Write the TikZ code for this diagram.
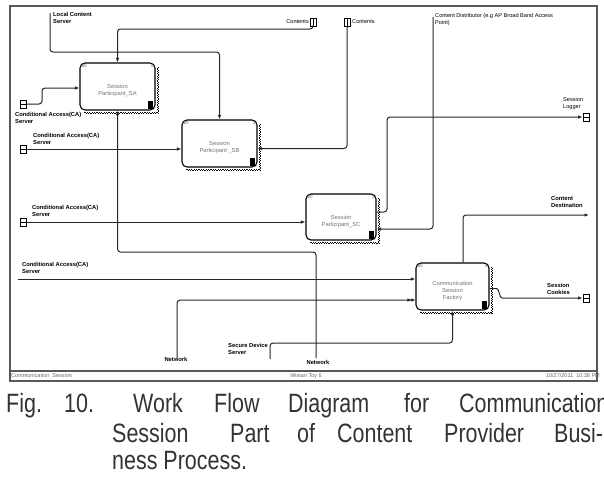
\documentclass[tikz,border=0pt]{standalone}
\usepackage{fontspec}
\setmainfont{Liberation Sans}
\newfontfamily\capfont[FakeStretch=0.81]{Liberation Sans}
\usetikzlibrary{arrows.meta}
\tikzset{
  actbox/.style={draw, line width=1.1pt, rounded corners=5pt, inner sep=0pt},
  boxtext/.style={font=\fontsize{5.8}{7}\selectfont, text=black!55, align=center, inner sep=0pt},
  corner/.style={font=\fontsize{4.5}{5}\selectfont, text=black!60, inner sep=0pt},
  hatch/.style={line width=1.2pt, dash pattern=on 1.2pt off 1.2pt},
  lbl/.style={font=\fontsize{5.8}{7}\selectfont\bfseries, align=left, inner sep=0pt, anchor=north west},
  lbln/.style={lbl, font=\fontsize{5.6}{7}\selectfont},
  foot/.style={font=\fontsize{5.5}{6}\selectfont, text=black!60, inner sep=0pt},
  captext/.style={font=\capfont\fontsize{26.5}{30}\selectfont, text=black!80, anchor=base west, inner sep=0pt},
  flow/.style={line width=1pt, black!85, rounded corners=3pt, -{Latex[length=4.5pt,width=3.5pt]}},
  flow2/.style={flow, -{Latex[length=4pt,width=3.5pt]Latex[length=4pt,width=3.5pt]}},
  tunnel/.style={draw, line width=0.8pt, fill=white, minimum width=6pt, minimum height=8pt, inner sep=0pt},
  tunnelh/.style={tunnel, path picture={\draw[line width=0.6pt] (path picture bounding box.west) -- (path picture bounding box.east);}},
  tunnelv/.style={tunnel, path picture={\draw[line width=0.6pt] (path picture bounding box.north) -- (path picture bounding box.south);}}
}
\begin{document}
\begin{tikzpicture}[x=1pt, y=-1pt]
  \useasboundingbox (0,0) rectangle (604,477);
  % frame and footer
  \draw[line width=1.3pt, black!65] (10,6) rectangle (597,381);
  \draw[line width=1.3pt, black!65] (10,371) -- (597,371);
  \node[foot, anchor=west] (foot-l) at (11,376) {Communication\ \ Session};
  \node[foot] (foot-m) at (306,376) {Wistan Toy 6};
  \node[foot, anchor=east] (foot-r) at (600,376) {10/27/2011\ \ 10:38 PM};

  % activities
  \node[actbox, minimum width=75pt, minimum height=47pt] (sa) at (117.5,86.5) {};
  \node[actbox, minimum width=75pt, minimum height=47pt] (sb) at (219.5,143.5) {};
  \node[actbox, minimum width=70pt, minimum height=46pt] (sc) at (341,217) {};
  \node[actbox, minimum width=73pt, minimum height=47pt] (csf) at (452.5,286.5) {};
  \foreach \b/\n/\t in {sa/1/{Session\\Participant\_SA}, sb/2/{Session\\Participant \_SB},
      sc/3/{Session\\Participant\_SC}, csf/4/{Communication\\Session\\Factory}} {
    \node[boxtext] (\b-txt) at ([yshift=-4pt]\b.center) {\t};
    \node[corner, anchor=north west] (\b-num) at ([shift={(2pt,-1.5pt)}]\b.north west) {\$0};
    \node[corner, anchor=north east] (\b-idx) at ([shift={(-2pt,-1.5pt)}]\b.north east) {\n};
    \fill[shift={(\b.south east)}] (-8,-10) rectangle (-2.5,-2);
    \draw[hatch] ([shift={(5pt,-1.6pt)}]\b.south west) -| ([shift={(1.6pt,-5pt)}]\b.north east);
    \draw[hatch, dash phase=1.2pt] ([shift={(5pt,-2.8pt)}]\b.south west) -| ([shift={(2.8pt,-5pt)}]\b.north east);
  }

  % borders: sources and sinks
  \node[lbl] (lcs) at (53,12) {Local Content\\Server};
  \coordinate (lcs-end) at (50,13);
  \node[tunnelv] (ct1) at (313,22) {};
  \node[lbln, anchor=east] (ct1-lbl) at (309,22) {Contents};
  \node[tunnelv] (ct2) at (347,22) {};
  \node[lbln, anchor=west] (ct2-lbl) at (352,22) {Contents};
  \node[lbln] (cd) at (435,13) {Content Distributor (e.g AP Broad Band Access\\Point)};
  \coordinate (cd-end) at (433,17);
  \node[lbln] (logger-lbl) at (563,97) {Session\\Logger};
  \node[tunnelh] (logger) at (586,117) {};
  \node[lbl] (dest) at (551,196) {Content\\Destination};
  \coordinate (dest-end) at (589,215);
  \node[lbl] (cookies-lbl) at (547,283) {Session\\Cookies};
  \node[tunnelh] (cookies) at (586,298) {};
  \node[tunnelh] (ca1) at (23,104) {};
  \node[lbl] (ca1-lbl) at (15,112) {Conditional Access(CA)\\Server};
  \node[tunnelh] (ca2) at (23,149) {};
  \node[lbl] (ca2-lbl) at (33,133) {Conditional Access(CA)\\Server};
  \node[tunnelh] (ca3) at (23,222) {};
  \node[lbl] (ca3-lbl) at (32,205) {Conditional Access(CA)\\Server};
  \node[lbl] (ca4-lbl) at (22,262) {Conditional Access(CA)\\Server};
  \coordinate (ca4-end) at (18,279);
  \node[lbl, anchor=north] (netl) at (176,357) {Network};
  \coordinate (netl-end) at (177,358);
  \node[lbl] (sds) at (228,343) {Secure Device\\Server};
  \coordinate (sds-end) at (270,359);
  \node[lbl, anchor=north] (netr) at (318,360) {Network};
  \coordinate (netr-end) at (316,358);

  % flows
  \draw[flow] (lcs-end) |- (219.5,52) -- (sb.north);
  \draw[flow] (ct1.south) |- (117.5,29) -- (sa.north);
  \draw[flow] (ct2.south) |- ([yshift=-5pt]sb.east);
  \draw[flow] (cd-end) |- ([yshift=-12pt]sc.east);
  \draw[flow] ([yshift=5pt]sc.east) -| (387,117) -- (logger.west);
  \draw[flow] ([xshift=10.5pt]csf.north) |- (dest-end);
  \draw[flow] ([yshift=-2pt]csf.east) -- ++(4,0) to[out=0, in=180] (505,298) -- (cookies.west);
  \draw[flow] (ca1.east) -| (42,88) -- ([yshift=-1.5pt]sa.west);
  \draw[flow] (ca2.east) -- ([yshift=-5.5pt]sb.west);
  \draw[flow] (ca3.east) -- ([yshift=-5pt]sc.west);
  \draw[flow] (ca4-end) -- ([yshift=7.5pt]csf.west);
  \draw[flow2] (netl-end) |- ([yshift=-13.5pt]csf.west);
  \draw[flow] (sds-end) |- (452.5,343) -- (csf.south);
  \draw[flow] (netr-end) |- (117.5,252) -- (sa.south);

  % caption
  \foreach \w/\x in {Fig./6, 10./64, Work/133, Flow/214, Diagram/288, for/404, Communication/459}
    \node[captext] (cap1-\x) at (\x,412) {\w};
  \foreach \w/\x in {Session/112, Part/230, of/297, Content/337, Provider/444, Busi-/554}
    \node[captext] (cap2-\x) at (\x,442) {\w};
  \node[captext] (cap3) at (112,469) {ness\ Process.};
\end{tikzpicture}
\end{document}
